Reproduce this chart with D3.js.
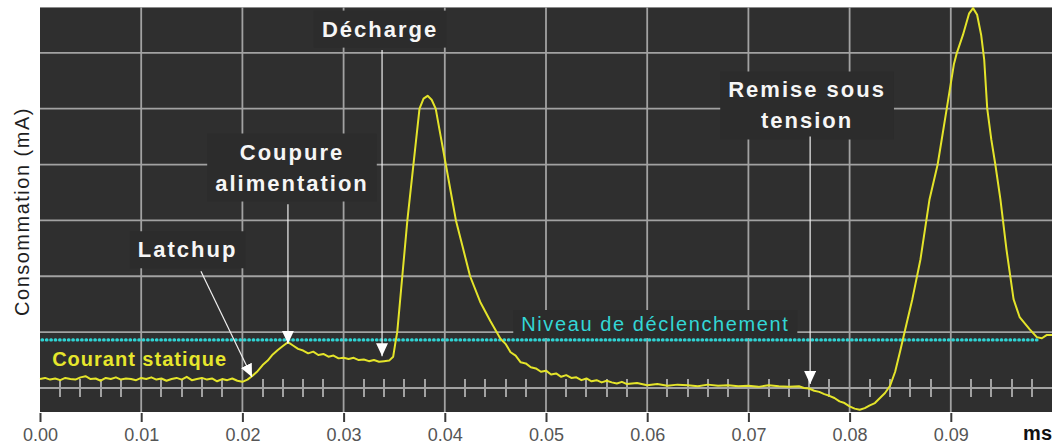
<!DOCTYPE html>
<html lang="fr">
<head>
<meta charset="utf-8">
<title>Consommation – latchup</title>
<script src="https://cdn.jsdelivr.net/npm/d3@7"></script>
<style>
  html, body { margin: 0; padding: 0; background: #ffffff; }
  svg { display: block; font-family: "Liberation Sans", Arial, sans-serif; }
</style>
</head>
<body>
<svg id="chart" width="1054" height="448"></svg>
<script>
// Axes
const xMajor = [0, 0.01, 0.02, 0.03, 0.04, 0.05, 0.06, 0.07, 0.08, 0.09];
const xLabels = ["0.00", "0.01", "0.02", "0.03", "0.04", "0.05", "0.06", "0.07", "0.08", "0.09"];
const xUnit = "ms";
const yGrid = [10, 20, 30, 40, 50, 60, 70];
const yTitle = "Consommation (mA)";

// Trigger threshold (mA)
const seuil = 18.6;

// Current trace, [ms, mA], split by phase
const statique = [
  [0.0000, 11.6], [0.0005, 11.8], [0.0010, 11.5], [0.0015, 11.7], [0.0020, 11.4],
  [0.0025, 11.8], [0.0030, 11.6], [0.0035, 11.5], [0.0040, 11.9], [0.0045, 12.1],
  [0.0050, 11.6], [0.0055, 11.7], [0.0060, 11.3], [0.0065, 11.8], [0.0070, 11.6],
  [0.0075, 11.9], [0.0080, 11.5], [0.0085, 11.7], [0.0090, 11.6], [0.0095, 11.4],
  [0.0100, 11.8], [0.0105, 11.6], [0.0110, 11.9], [0.0115, 11.5], [0.0120, 11.7],
  [0.0125, 11.3], [0.0130, 11.6], [0.0135, 11.8], [0.0140, 11.5], [0.0145, 12.0],
  [0.0150, 11.4], [0.0155, 11.6], [0.0160, 11.8], [0.0165, 11.5], [0.0170, 11.7],
  [0.0175, 11.2], [0.0180, 11.6], [0.0185, 11.4], [0.0190, 11.7], [0.0195, 11.3],
  [0.0200, 11.1], [0.0205, 11.5]
];
const latchup = [
  [0.0210, 12.2], [0.0215, 13.0], [0.0220, 14.1], [0.0225, 14.9], [0.0230, 16.0],
  [0.0235, 16.8], [0.0240, 17.5], [0.0245, 18.2], [0.0250, 17.6], [0.0255, 17.0],
  [0.0260, 16.7], [0.0265, 16.2], [0.0270, 16.5], [0.0275, 15.9], [0.0280, 16.1],
  [0.0285, 15.6], [0.0290, 15.8], [0.0295, 15.3], [0.0300, 15.4], [0.0305, 15.2],
  [0.0310, 15.4], [0.0315, 15.0], [0.0320, 15.1], [0.0325, 14.8], [0.0330, 15.0],
  [0.0335, 14.7], [0.0340, 14.8], [0.0345, 14.9]
];
const decharge = [
  [0.0349, 15.6], [0.0351, 17.9], [0.0353, 20.0], [0.0358, 30.0], [0.0363, 40.0],
  [0.0369, 50.0], [0.0375, 60.0], [0.0379, 61.8], [0.0383, 62.3], [0.0387, 61.6],
  [0.0391, 60.0], [0.0396, 55.0], [0.0401, 50.0], [0.0406, 45.0], [0.0411, 40.0],
  [0.0418, 35.0], [0.0425, 30.0], [0.0435, 25.4], [0.0445, 22.0], [0.0455, 18.8],
  [0.0460, 17.9], [0.0465, 16.4], [0.0470, 15.8], [0.0475, 14.6], [0.0480, 14.4],
  [0.0485, 13.7], [0.0490, 13.5], [0.0495, 12.9], [0.0500, 13.1], [0.0505, 12.4],
  [0.0510, 12.6], [0.0515, 12.0], [0.0520, 12.3], [0.0525, 11.8], [0.0530, 11.9],
  [0.0535, 11.4], [0.0540, 11.7], [0.0545, 11.2], [0.0550, 11.4], [0.0555, 11.0],
  [0.0560, 11.3], [0.0565, 11.0], [0.0570, 10.8], [0.0575, 11.1], [0.0580, 10.7],
  [0.0590, 10.9], [0.0600, 10.5], [0.0610, 10.7], [0.0620, 10.4], [0.0630, 10.6],
  [0.0640, 10.5], [0.0650, 10.3], [0.0660, 10.6], [0.0670, 10.4], [0.0680, 10.5],
  [0.0690, 10.3], [0.0700, 10.4], [0.0710, 10.2], [0.0720, 10.5], [0.0730, 10.3],
  [0.0740, 10.2], [0.0750, 10.3]
];
const remise = [
  [0.0755, 10.0], [0.0760, 9.9], [0.0765, 9.5], [0.0770, 9.3], [0.0775, 8.9],
  [0.0780, 8.6], [0.0785, 8.2], [0.0790, 7.6], [0.0795, 7.3], [0.0800, 6.7],
  [0.0805, 6.3], [0.0810, 6.1], [0.0815, 6.4], [0.0820, 6.9], [0.0825, 7.3],
  [0.0830, 8.2], [0.0835, 9.1], [0.0840, 10.4], [0.0845, 12.9], [0.0850, 16.6],
  [0.0855, 20.5], [0.0862, 25.9], [0.0870, 33.0], [0.0879, 43.8], [0.0887, 50.0],
  [0.0896, 60.0], [0.0903, 67.9], [0.0906, 70.0], [0.0912, 73.2], [0.0918, 77.0],
  [0.0922, 78.0], [0.0926, 76.8], [0.0930, 73.2], [0.0933, 68.8], [0.0936, 60.0],
  [0.0940, 54.5], [0.0944, 50.0], [0.0949, 43.8], [0.0955, 34.8], [0.0962, 25.9],
  [0.0968, 22.7], [0.0978, 20.5], [0.0985, 19.1], [0.0990, 18.9], [0.0995, 19.5],
  [0.1000, 19.5]
];

// Callouts: text anchor, arrow start and arrow tip in (ms, mA)
const notes = [
  { lines: ["Latchup"], at: [0.01458, 33.4], from: [0.0159, 30.9], to: [0.02095, 11.96] },
  { lines: ["Coupure", "alimentation"], at: [0.0249, 50.9], from: [0.0245, 42.9], to: [0.0245, 17.9] },
  { lines: ["Décharge"], at: [0.0336, 72.9], from: [0.0338, 70.5], to: [0.0338, 15.7] },
  { lines: ["Remise sous", "tension"], at: [0.0758, 62.0], from: [0.0761, 55.0], to: [0.0761, 10.7] }
];
const seuilLabel = { text: "Niveau de déclenchement", at: [0.0608, 20.2] };
const statiqueLabel = { text: "Courant statique", at: [0.0012, 13.9] };

// ---- layout ----
const svg = d3.select("#chart");
const plot = { left: 40, top: 7, right: 1052, bottom: 412 };
const x = d3.scaleLinear().domain([0, 0.1]).range([plot.left, plot.right]);
const y = d3.scaleLinear().domain([5.7, 78.2]).range([plot.bottom, plot.top]);

const BG = "#2f2f2f", GRID = "#a2a2a2";

svg.append("rect")
  .attr("x", plot.left).attr("y", plot.top)
  .attr("width", plot.right - plot.left).attr("height", plot.bottom - plot.top)
  .attr("fill", BG);
svg.append("line")
  .attr("x1", plot.left).attr("x2", plot.right)
  .attr("y1", plot.top + 0.5).attr("y2", plot.top + 0.5)
  .attr("stroke", "#8a8a8a").attr("stroke-width", 1);

// grid
const grid = svg.append("g").attr("stroke", GRID).attr("stroke-width", 1.8);
grid.selectAll(".v").data(xMajor.filter(d => d > 0)).join("line")
  .attr("x1", d => x(d)).attr("x2", d => x(d))
  .attr("y1", plot.top).attr("y2", plot.bottom);
grid.selectAll(".h").data(yGrid).join("line")
  .attr("x1", plot.left).attr("x2", plot.right)
  .attr("y1", d => y(d)).attr("y2", d => y(d));

// minor ticks on the lowest grid line
const xMinor = d3.range(1, 50).map(i => i * 0.002).filter((d, i) => (i + 1) % 5 !== 0);
grid.append("g").attr("stroke-width", 2).selectAll("line").data(xMinor).join("line")
  .attr("x1", d => Math.round(x(d))).attr("x2", d => Math.round(x(d)))
  .attr("y1", y(yGrid[0]) - 9).attr("y2", y(yGrid[0]) + 9);

// x axis below the screen
const xAxis = d3.axisBottom(x).tickValues(xMajor).tickSize(9).tickPadding(6)
  .tickFormat((d, i) => xLabels[i]);
const ax = svg.append("g").attr("transform", `translate(0,${plot.bottom + 1})`).call(xAxis);
ax.select(".domain").remove();
ax.selectAll(".tick line").attr("stroke", "#3a3a3a").attr("stroke-width", 2);
ax.selectAll(".tick text")
  .attr("fill", "#555").attr("font-size", 18)
  .attr("font-family", "'Liberation Sans', Arial, sans-serif");
svg.append("text")
  .attr("x", plot.right).attr("y", 440).attr("text-anchor", "end")
  .attr("font-size", 20).attr("font-weight", "bold").attr("fill", "#111")
  .text(xUnit);

// y title
svg.append("text")
  .attr("transform", `translate(29,${(plot.top + plot.bottom) / 2 + 2}) rotate(-90)`)
  .attr("text-anchor", "middle").attr("font-size", 20)
  .attr("letter-spacing", 1.5).attr("fill", "#1e1e1e")
  .text(yTitle);

// threshold
svg.append("line")
  .attr("x1", x(0) + 2).attr("x2", x(0.0988))
  .attr("y1", y(seuil)).attr("y2", y(seuil))
  .attr("stroke", "#2fd3d3").attr("stroke-width", 3.2)
  .attr("stroke-linecap", "round").attr("stroke-dasharray", "0.6 3.8");

// trace
const trace = statique.concat(latchup, decharge, remise);
const line = d3.line().x(d => x(d[0])).y(d => y(d[1]));
svg.append("path").datum(trace)
  .attr("d", line).attr("fill", "none")
  .attr("stroke", "#e4e42a").attr("stroke-width", 2)
  .attr("stroke-linejoin", "round");

// labels on the trace
svg.append("text")
  .attr("x", x(statiqueLabel.at[0])).attr("y", y(statiqueLabel.at[1]))
  .attr("font-size", 20).attr("font-weight", "bold").attr("letter-spacing", 1)
  .attr("fill", "#e6e62c").text(statiqueLabel.text);

function boxedText(g, lines, cx, by, opts) {
  const t = g.append("text").attr("text-anchor", "middle")
    .attr("font-size", opts.size).attr("font-weight", opts.weight)
    .attr("letter-spacing", opts.spacing).attr("fill", opts.color);
  lines.forEach((s, i) => t.append("tspan").attr("x", cx).attr("y", by + i * opts.lead).text(s));
  const b = t.node().getBBox();
  g.insert("rect", "text")
    .attr("x", b.x - opts.padX).attr("y", b.y - opts.padY)
    .attr("width", b.width + 2 * opts.padX).attr("height", b.height + 2 * opts.padY)
    .attr("fill", "#2c2c2c");
}

boxedText(svg.append("g"), [seuilLabel.text], x(seuilLabel.at[0]), y(seuilLabel.at[1]),
  { size: 20, weight: "normal", spacing: 1.6, color: "#33d6d6", lead: 0, padX: 8, padY: 3 });

// callouts
const defs = svg.append("defs");
defs.append("marker")
  .attr("id", "tip").attr("viewBox", "0 0 13 12")
  .attr("refX", 13).attr("refY", 6)
  .attr("markerWidth", 13).attr("markerHeight", 12)
  .attr("markerUnits", "userSpaceOnUse").attr("orient", "auto")
  .append("path").attr("d", "M0,0 L13,6 L0,12 Z").attr("fill", "#ffffff");

notes.forEach(n => {
  const g = svg.append("g");
  boxedText(g, n.lines, x(n.at[0]), y(n.at[1]),
    { size: 22, weight: "bold", spacing: 2, color: "#f6f6f6", lead: 31, padX: 8, padY: 6 });
  svg.append("line")
    .attr("x1", x(n.from[0])).attr("y1", y(n.from[1]))
    .attr("x2", x(n.to[0])).attr("y2", y(n.to[1]))
    .attr("stroke", "#f0f0f0").attr("stroke-width", 1.2)
    .attr("marker-end", "url(#tip)");
});
</script>
</body>
</html>
